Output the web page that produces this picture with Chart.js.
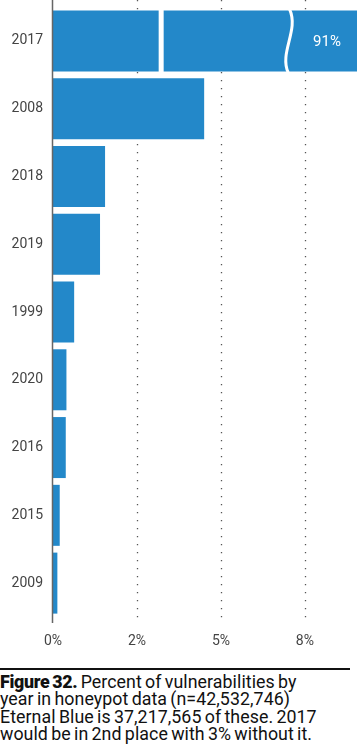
<!DOCTYPE html>
<html>
<head>
<meta charset="utf-8">
<script src="https://cdn.jsdelivr.net/npm/chart.js@4"></script>
<style>
  html, body { margin: 0; padding: 0; background: #fff; }
  body { width: 357px; height: 756px; overflow: hidden; position: relative; }
  #wrap { position: absolute; left: 0; top: 0; width: 357px; height: 660px; }
  #rule { position: absolute; left: 0; top: 668px; width: 350px; height: 2px; background: #111; }
  #caption { position: absolute; left: 0; top: 673px; width: 360px; white-space: nowrap;
    font-family: Roboto, "Liberation Sans", sans-serif; font-size: 17.8px; line-height: 17.4px;
    color: #111; letter-spacing: 0.06px; word-spacing: -1.2px; }
  #caption b { font-weight: 900; letter-spacing: -0.3px; }
</style>
</head>
<body>
<div id="wrap"><canvas id="c" width="357" height="660"></canvas></div>
<div id="rule"></div>
<div id="caption"><b>Figure 32.</b> Percent of vulnerabilities by<br>year in honeypot data (n=42,532,746)<br>Eternal Blue is 37,217,565 of these. 2017<br>would be in 2nd place with 3% without it.</div>
<script>
const categories = ["2017", "2008", "2018", "2019", "1999", "2020", "2016", "2015", "2009"];
const percentValues = [91, 4.5, 1.55, 1.4, 0.63, 0.4, 0.38, 0.2, 0.13];
const tickValues = [0, 2.5, 5, 7.5];
const tickLabels = ["0%", "2%", "5%", "8%"];
const topLabel = "91%";
const breakGapValue = 3.22;
const breakWaveValue = 7.0;

const barBlue = "#2388c9";

const overlayPlugin = {
  id: "overlay",
  beforeDatasetsDraw(chart) {
    const ctx = chart.ctx, xs = chart.scales.x, area = chart.chartArea;
    ctx.save();
    ctx.strokeStyle = "#555";
    ctx.lineWidth = 1.3;
    ctx.setLineDash([1.3, 6.7]);
    tickValues.slice(1).forEach(v => {
      const x = Math.round(xs.getPixelForValue(v)) + 0.5;
      ctx.beginPath(); ctx.moveTo(x, 0); ctx.lineTo(x, area.bottom + 6); ctx.stroke();
    });
    ctx.restore();
  },
  afterDatasetsDraw(chart) {
    const ctx = chart.ctx, xs = chart.scales.x, area = chart.chartArea;
    const bar = chart.getDatasetMeta(0).data[0];
    const top = bar.y - bar.height / 2, bot = bar.y + bar.height / 2;
    ctx.save();
    const gx = xs.getPixelForValue(breakGapValue);
    ctx.fillStyle = "#fff";
    ctx.fillRect(gx - 2.5, top - 1, 5, bot - top + 2);
    const wx = xs.getPixelForValue(breakWaveValue);
    ctx.strokeStyle = "#fff";
    ctx.lineWidth = 3;
    ctx.beginPath();
    ctx.moveTo(wx + 1.5, top - 1);
    ctx.bezierCurveTo(wx + 11, top + 20, wx - 9, top + 42, wx, bot + 1);
    ctx.stroke();
    ctx.fillStyle = "#fff";
    ctx.font = "15px Roboto, sans-serif";
    ctx.textAlign = "center";
    ctx.textBaseline = "middle";
    ctx.fillText(topLabel, 327, bar.y + 1);
    ctx.strokeStyle = "#666";
    ctx.lineWidth = 1.5;
    ctx.beginPath();
    const ax = xs.getPixelForValue(0) - 0.5;
    ctx.moveTo(ax, 0); ctx.lineTo(ax, area.bottom + 6); ctx.stroke();
    ctx.restore();
  }
};

new Chart(document.getElementById("c"), {
  type: "bar",
  data: {
    labels: categories,
    datasets: [{
      data: percentValues,
      backgroundColor: barBlue,
      borderWidth: 0,
      categoryPercentage: 0.9,
      barPercentage: 1.0
    }]
  },
  options: {
    indexAxis: "y",
    responsive: false,
    animation: false,
    devicePixelRatio: 1,
    layout: { padding: { top: 7, right: 0, bottom: 0, left: 0 } },
    plugins: { legend: { display: false }, tooltip: { enabled: false } },
    scales: {
      x: {
        min: 0, max: 9.05,
        afterBuildTicks(scale) { scale.ticks = tickValues.map(v => ({ value: v })); },
        afterFit(scale) { scale.height = 43; scale.paddingLeft = 0; scale.paddingRight = 0; },
        grid: { display: false, drawTicks: false },
        border: { display: false },
        ticks: {
          padding: 16,
          color: "#444",
          font: { family: "Roboto", size: 14 },
          callback: (v, i) => tickLabels[i]
        }
      },
      y: {
        afterFit(scale) { scale.width = 53; scale.paddingTop = 0; scale.paddingBottom = 0; },
        grid: { display: false, drawTicks: false },
        border: { display: false },
        ticks: {
          padding: 10,
          color: "#444",
          font: { family: "Roboto", size: 14 }
        }
      }
    }
  },
  plugins: [overlayPlugin]
});
</script>
</body>
</html>
